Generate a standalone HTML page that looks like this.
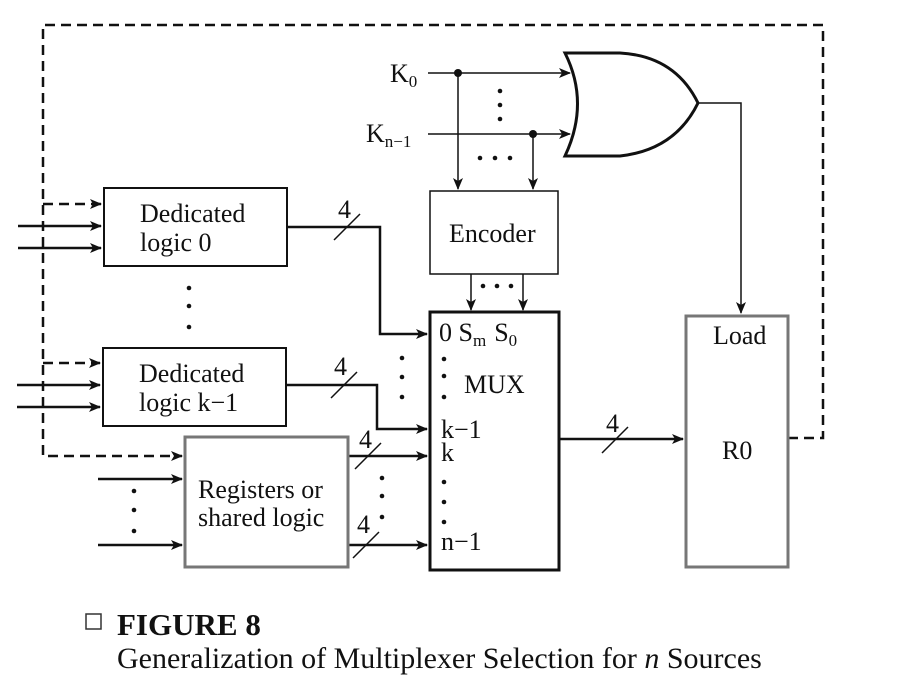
<!DOCTYPE html>
<html><head><meta charset="utf-8"><style>
html,body{margin:0;padding:0;background:#fff;}
svg{display:block;}
text{font-family:"Liberation Serif",serif;fill:#111;}
</style></head><body>
<svg width="901" height="686" viewBox="0 0 901 686" xmlns="http://www.w3.org/2000/svg">
<defs>
<marker id="a" viewBox="0 0 12 10" refX="11" refY="5" markerWidth="12" markerHeight="10" markerUnits="userSpaceOnUse" orient="auto"><path d="M0,0 L12,5 L0,10 L3,5 Z" fill="#111"/></marker>
</defs>
<g stroke="#111" fill="none">
<path d="M788,438 H823 V25 H43 V456 H182" stroke-width="2.5" stroke-dasharray="10,6" marker-end="url(#a)"/>
<path d="M43,204 H101" stroke-width="2.5" stroke-dasharray="10,6" marker-end="url(#a)"/>
<path d="M43,363 H100" stroke-width="2.5" stroke-dasharray="10,6" marker-end="url(#a)"/>
<g stroke-width="2.5">
<path d="M18,226 H101" marker-end="url(#a)"/>
<path d="M18,248 H101" marker-end="url(#a)"/>
<path d="M17,385 H100" marker-end="url(#a)"/>
<path d="M17,407 H100" marker-end="url(#a)"/>
<path d="M98,479 H182" marker-end="url(#a)"/>
<path d="M98,545 H182" marker-end="url(#a)"/>
<path d="M287,227 H380 V334 H427" marker-end="url(#a)"/>
<path d="M286,385 H377 V429 H427" marker-end="url(#a)"/>
<path d="M348,456 H427" marker-end="url(#a)"/>
<path d="M348,545 H427" marker-end="url(#a)"/>
<path d="M559,439 H683" marker-end="url(#a)"/>
</g>
<g stroke-width="1.5">
<path d="M334,240 L360,214"/><path d="M331,398 L357,372"/>
<path d="M355,469 L381,443"/><path d="M353,558 L379,532"/>
<path d="M602,453 L628,427"/>
</g>
<rect x="104" y="188" width="183" height="78" stroke-width="2"/>
<rect x="103" y="348" width="183" height="78" stroke-width="2"/>
<rect x="185" y="437" width="163" height="130" stroke="#777" stroke-width="3"/>
<rect x="430" y="191" width="128" height="83" stroke-width="1.5"/>
<rect x="430" y="312" width="129" height="258" stroke-width="3"/>
<rect x="686" y="316" width="102" height="251" stroke="#777" stroke-width="3"/>
<g stroke-width="1.5">
<path d="M428,73 H570" marker-end="url(#a)"/>
<path d="M428,134 H570" marker-end="url(#a)"/>
<path d="M458,73 V189" marker-end="url(#a)"/>
<path d="M533,134 V189" marker-end="url(#a)"/>
<path d="M471,274 V310" marker-end="url(#a)"/>
<path d="M523,274 V310" marker-end="url(#a)"/>
<path d="M698,103 H741 V313" marker-end="url(#a)"/>
</g>
<path d="M565,53 Q590,103 565,156 L620,156 Q675,150 698,103 Q675,56 620,53 Z" stroke-width="3"/>
</g>
<g fill="#111">
<circle cx="458" cy="73" r="4"/><circle cx="533" cy="134" r="4"/>
<circle cx="500" cy="91" r="2.3"/><circle cx="500" cy="105" r="2.3"/><circle cx="500" cy="119" r="2.3"/>
<circle cx="480" cy="158" r="2.3"/><circle cx="495" cy="158" r="2.3"/><circle cx="510" cy="158" r="2.3"/>
<circle cx="483" cy="286" r="2.3"/><circle cx="497" cy="286" r="2.3"/><circle cx="511" cy="286" r="2.3"/>
<circle cx="189" cy="288" r="2.3"/><circle cx="189" cy="306" r="2.3"/><circle cx="189" cy="327" r="2.3"/>
<circle cx="402" cy="358" r="2.3"/><circle cx="402" cy="377" r="2.3"/><circle cx="402" cy="397" r="2.3"/>
<circle cx="134" cy="491" r="2.3"/><circle cx="134" cy="510" r="2.3"/><circle cx="134" cy="531" r="2.3"/>
<circle cx="382" cy="478" r="2.3"/><circle cx="382" cy="496" r="2.3"/><circle cx="382" cy="517" r="2.3"/>
<circle cx="444" cy="359" r="2.3"/><circle cx="444" cy="376" r="2.3"/><circle cx="444" cy="397" r="2.3"/>
<circle cx="444" cy="482" r="2.3"/><circle cx="444" cy="502" r="2.3"/><circle cx="444" cy="522" r="2.3"/>
</g>
<g font-size="26">
<text x="140" y="222">Dedicated</text><text x="140" y="251">logic 0</text>
<text x="139" y="382">Dedicated</text><text x="139" y="411">logic k−1</text>
<text x="198" y="498">Registers or</text><text x="198" y="526">shared logic</text>
<text x="449" y="242">Encoder</text>
<text x="464" y="393">MUX</text>
<text x="713" y="344">Load</text>
<text x="722" y="459">R0</text>
<text x="338" y="218">4</text><text x="334" y="375">4</text>
<text x="359" y="448">4</text><text x="357" y="533">4</text><text x="606" y="432">4</text>
<text x="439" y="341">0 S<tspan font-size="17" dy="5">m</tspan><tspan dy="-5" dx="8">S</tspan><tspan font-size="17" dy="5">0</tspan></text>
<text x="441" y="438">k−1</text>
<text x="441" y="461">k</text>
<text x="441" y="550">n−1</text>
<text x="390" y="82">K<tspan font-size="17" dy="5">0</tspan></text>
<text x="366" y="142">K<tspan font-size="17" dy="5">n−1</tspan></text>
</g>
<rect x="86" y="614" width="15" height="15" fill="none" stroke="#333" stroke-width="1.5"/>
<text x="117" y="635" font-size="31" font-weight="bold">FIGURE 8</text>
<text x="117" y="668" font-size="30">Generalization of Multiplexer Selection for <tspan font-style="italic">n</tspan> Sources</text>
</svg>
</body></html>
